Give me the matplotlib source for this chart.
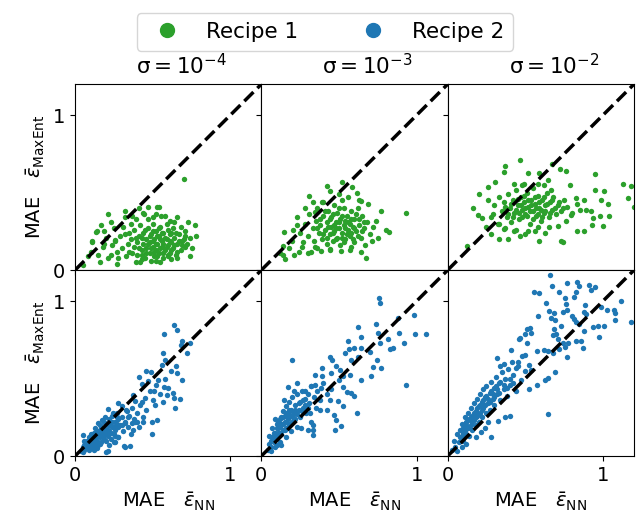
import numpy as np
import matplotlib.pyplot as plt
from matplotlib.lines import Line2D

# sigma values for the three columns
sigma_labels = [r'$\mathrm{\sigma = 10^{-4}}$', r'$\mathrm{\sigma = 10^{-3}}$', r'$\mathrm{\sigma = 10^{-2}}$']
recipe_names = ['Recipe 1', 'Recipe 2']
recipe_colors = ['#2ca02c', '#1f77b4']

# (MAE NN, MAE MaxEnt) pairs
r1_s4 = [(0.70,0.59),(0.215,0.36),(0.32,0.38),(0.41,0.40),(0.53,0.41),(0.445,0.36),(0.557,0.35),(0.656,0.34),
         (0.727,0.31),(0.774,0.29),(0.778,0.22),(0.753,0.14),(0.738,0.09),(0.656,0.076),(0.27,0.04),(0.28,0.08),
         (0.108,0.19),(0.133,0.245),(0.15,0.10),(0.086,0.09),(0.23,0.31),(0.32,0.34),(0.39,0.33),(0.505,0.34),
         (0.61,0.32),(0.68,0.28),(0.71,0.255),(0.69,0.19),(0.71,0.15),(0.60,0.10),(0.52,0.06),(0.43,0.07),
         (0.39,0.05),(0.215,0.08),(0.18,0.15),(0.26,0.19),(0.19,0.255),(0.32,0.235),(0.05,0.03),(0.17,0.29),
         (0.14,0.25),(0.11,0.18),(0.19,0.17),(0.26,0.195),(0.23,0.10),(0.37,0.35),(0.44,0.37),(0.47,0.41),
         (0.54,0.41),(0.35,0.12),(0.36,0.20),(0.38,0.15),(0.38,0.26),(0.40,0.10),(0.40,0.18),(0.41,0.22),
         (0.42,0.29),(0.43,0.13),(0.44,0.17),(0.44,0.24),(0.45,0.08),(0.46,0.20),(0.46,0.14),(0.47,0.27),
         (0.48,0.11),(0.48,0.18),(0.49,0.23),(0.50,0.15),(0.50,0.30),(0.51,0.09),(0.51,0.20),(0.52,0.13),
         (0.52,0.25),(0.53,0.17),(0.54,0.22),(0.54,0.11),(0.55,0.28),(0.56,0.15),(0.56,0.19),(0.57,0.08),
         (0.57,0.24),(0.58,0.13),(0.59,0.20),(0.59,0.30),(0.60,0.16),(0.61,0.11),(0.61,0.23),(0.62,0.18),
         (0.63,0.14),(0.63,0.27),(0.64,0.21),(0.65,0.10),(0.66,0.17),(0.67,0.23),(0.68,0.13),(0.70,0.20),
         (0.72,0.17),(0.74,0.21),(0.30,0.14),(0.31,0.28),(0.33,0.09),(0.34,0.17),(0.29,0.22),(0.27,0.12),
         (0.25,0.27),(0.42,0.05),(0.49,0.06),(0.55,0.05),(0.62,0.07),(0.47,0.33),(0.58,0.35),(0.36,0.30),
         (0.64,0.31),(0.52,0.36),(0.10,0.12),(0.20,0.21),(0.24,0.16),(0.16,0.05),
         (0.41,0.14),(0.43,0.21),(0.45,0.26),(0.46,0.11),(0.47,0.17),(0.48,0.22),(0.49,0.14),(0.50,0.19),
         (0.50,0.25),(0.51,0.12),(0.52,0.17),(0.53,0.22),(0.53,0.09),(0.54,0.27),(0.55,0.14),(0.55,0.20),
         (0.56,0.24),(0.57,0.11),(0.57,0.17),(0.58,0.21),(0.59,0.15),(0.60,0.26),(0.60,0.09),(0.61,0.19),
         (0.62,0.13),(0.62,0.24),(0.64,0.16),(0.65,0.24),(0.66,0.12),(0.67,0.19),(0.39,0.21),(0.37,0.11),
         (0.35,0.24),(0.43,0.10),(0.69,0.16),(0.71,0.22)]

r1_s3 = [(0.935,0.37),(0.426,0.54),(0.52,0.567),(0.585,0.537),(0.617,0.50),(0.31,0.476),(0.44,0.51),(0.50,0.49),
         (0.56,0.47),(0.645,0.446),(0.69,0.43),(0.77,0.38),(0.74,0.32),(0.80,0.26),(0.82,0.245),(0.75,0.21),
         (0.71,0.19),(0.677,0.08),(0.645,0.115),(0.576,0.147),(0.516,0.126),(0.44,0.134),(0.387,0.126),
         (0.344,0.147),(0.30,0.108),(0.26,0.147),(0.21,0.10),(0.14,0.10),(0.14,0.158),(0.146,0.245),(0.204,0.26),
         (0.232,0.342),(0.28,0.40),(0.333,0.44),(0.40,0.44),(0.344,0.374),(0.28,0.30),(0.30,0.22),(0.31,0.36),
         (0.33,0.27),(0.34,0.19),(0.35,0.32),(0.36,0.40),(0.37,0.24),(0.38,0.29),(0.39,0.20),(0.40,0.35),
         (0.41,0.26),(0.42,0.31),(0.42,0.17),(0.43,0.38),(0.44,0.23),(0.45,0.28),(0.45,0.34),(0.46,0.19),
         (0.47,0.42),(0.47,0.25),(0.48,0.31),(0.49,0.21),(0.49,0.37),(0.50,0.27),(0.51,0.33),(0.51,0.16),
         (0.52,0.24),(0.53,0.40),(0.53,0.29),(0.54,0.20),(0.55,0.35),(0.56,0.26),(0.56,0.31),(0.57,0.22),
         (0.58,0.38),(0.59,0.28),(0.60,0.18),(0.60,0.33),(0.61,0.25),(0.62,0.40),(0.63,0.29),(0.64,0.21),
         (0.65,0.35),(0.66,0.27),(0.67,0.16),(0.68,0.31),(0.70,0.23),(0.72,0.28),(0.36,0.14),(0.39,0.44),
         (0.44,0.13),(0.52,0.45),(0.57,0.13),(0.63,0.45),(0.25,0.24),(0.27,0.18),(0.32,0.12),(0.23,0.29),
         (0.20,0.19),(0.18,0.14),(0.15,0.07),(0.12,0.11),(0.24,0.12),
         (0.36,0.27),(0.38,0.33),(0.40,0.23),(0.41,0.38),(0.43,0.28),(0.44,0.33),(0.46,0.24),(0.46,0.36),
         (0.48,0.27),(0.48,0.20),(0.50,0.31),(0.50,0.40),(0.52,0.21),(0.52,0.35),(0.54,0.27),(0.54,0.32),
         (0.55,0.23),(0.57,0.30),(0.58,0.24),(0.58,0.33),(0.60,0.27),(0.61,0.36),(0.62,0.22),(0.63,0.33),
         (0.65,0.25),(0.66,0.31),(0.42,0.21),(0.47,0.29),(0.53,0.18),(0.59,0.20)]

r1_s2 = [(0.468,0.708),(0.369,0.675),(0.364,0.636),(0.519,0.63),(0.587,0.628),(0.673,0.684),(0.724,0.654),
         (0.762,0.64),(0.95,0.62),(1.13,0.558),(1.18,0.543),(1.16,0.465),(1.20,0.407),(0.946,0.52),(1.006,0.51),
         (0.99,0.45),(1.03,0.43),(1.04,0.35),(0.98,0.35),(0.935,0.335),(0.93,0.294),(1.0,0.284),(0.88,0.255),
         (0.834,0.255),(0.744,0.18),(0.73,0.186),(0.587,0.186),(0.469,0.223),(0.387,0.20),(0.333,0.20),
         (0.28,0.234),(0.247,0.277),(0.22,0.335),(0.198,0.353),(0.166,0.40),(0.204,0.49),(0.258,0.537),
         (0.305,0.567),(0.125,0.158),(0.785,0.548),(0.828,0.467),(0.88,0.45),(0.85,0.39),(0.89,0.385),
         (0.925,0.38),(0.796,0.353),(0.763,0.32),(0.71,0.288),(0.656,0.277),(0.624,0.238),(0.56,0.255),
         (0.50,0.234),(0.43,0.255),(0.366,0.266),(0.323,0.30),(0.28,0.342),(0.43,0.558),(0.495,0.558),
         (0.58,0.558),(0.645,0.58),(0.667,0.515),(0.30,0.42),(0.33,0.47),(0.35,0.38),(0.36,0.44),(0.38,0.34),
         (0.39,0.49),(0.40,0.40),(0.41,0.31),(0.42,0.45),(0.43,0.37),(0.44,0.52),(0.45,0.42),(0.46,0.33),
         (0.47,0.47),(0.48,0.39),(0.49,0.44),(0.50,0.36),(0.51,0.50),(0.52,0.41),(0.53,0.30),(0.54,0.45),
         (0.55,0.38),(0.56,0.43),(0.57,0.35),(0.58,0.48),(0.59,0.40),(0.60,0.32),(0.61,0.45),(0.62,0.37),
         (0.63,0.42),(0.64,0.50),(0.65,0.34),(0.66,0.44),(0.67,0.39),(0.68,0.47),(0.70,0.36),(0.71,0.42),
         (0.73,0.38),(0.75,0.45),(0.77,0.41),(0.80,0.37),(0.83,0.43),(0.37,0.27),(0.44,0.26),(0.52,0.25),
         (0.58,0.28),(0.26,0.45),(0.29,0.36),(0.33,0.30),(0.48,0.55),(0.55,0.53),(0.62,0.55),
         (0.37,0.41),(0.39,0.36),(0.41,0.43),(0.42,0.34),(0.44,0.39),(0.45,0.46),(0.46,0.37),(0.47,0.42),
         (0.48,0.34),(0.49,0.48),(0.50,0.40),(0.51,0.35),(0.52,0.45),(0.53,0.38),(0.54,0.42),(0.55,0.33),
         (0.56,0.47),(0.57,0.40),(0.58,0.36),(0.59,0.44),(0.60,0.39),(0.61,0.34),(0.62,0.47),(0.63,0.38),
         (0.64,0.43),(0.66,0.37),(0.67,0.45),(0.69,0.40),(0.72,0.44),(0.74,0.40)]

r2_s4 = [(0.64,0.844),(0.66,0.814),(0.576,0.79),(0.69,0.742),(0.742,0.727),(0.684,0.714),(0.57,0.662),
         (0.72,0.667),(0.58,0.623),(0.563,0.59),(0.65,0.58),(0.456,0.548),(0.49,0.54),(0.537,0.494),
         (0.413,0.51),(0.469,0.483),(0.656,0.537),(0.688,0.494),(0.43,0.468),(0.512,0.418),(0.576,0.446),
         (0.59,0.396),(0.634,0.407),(0.677,0.368),(0.64,0.374),(0.57,0.346),(0.645,0.31),(0.516,0.33),
         (0.45,0.374),(0.42,0.33),(0.387,0.353),(0.376,0.396),(0.44,0.255),(0.495,0.223),(0.527,0.234),
         (0.495,0.14),(0.355,0.065),(0.318,0.065),(0.198,0.028),(0.275,0.12),(0.258,0.093),(0.226,0.223),
         (0.28,0.342),(0.30,0.32),(0.333,0.288),(0.344,0.255),(0.366,0.212),(0.398,0.223),(0.323,0.212),
         (0.269,0.255),(0.247,0.277),(0.215,0.303),(0.194,0.255),(0.172,0.234),(0.15,0.212),(0.054,0.136),
         (0.054,0.028),(0.086,0.05),(0.32,0.06),(0.376,0.17),(0.387,0.223),(0.28,0.19),(0.215,0.035),
         (0.04,0.03),(0.05,0.06),(0.06,0.04),(0.07,0.08),(0.07,0.05),(0.08,0.10),(0.08,0.06),(0.09,0.12),
         (0.09,0.04),(0.10,0.08),(0.10,0.14),(0.11,0.10),(0.11,0.06),(0.12,0.15),(0.12,0.12),(0.13,0.08),
         (0.13,0.18),(0.14,0.13),(0.14,0.10),(0.15,0.16),(0.15,0.07),(0.16,0.12),(0.16,0.20),(0.17,0.15),
         (0.17,0.09),(0.18,0.18),(0.18,0.12),(0.19,0.22),(0.19,0.14),(0.20,0.10),(0.20,0.17),(0.21,0.20),
         (0.21,0.13),(0.22,0.24),(0.22,0.16),(0.23,0.11),(0.24,0.19),(0.24,0.26),(0.25,0.14),(0.26,0.22),
         (0.26,0.17),(0.27,0.28),(0.28,0.12),(0.29,0.20),(0.30,0.25),(0.31,0.16),(0.32,0.22),(0.33,0.30),
         (0.34,0.19),(0.35,0.26),(0.36,0.14),(0.37,0.31),(0.38,0.24),(0.40,0.28),(0.41,0.19),(0.43,0.35),
         (0.44,0.22),(0.46,0.30),(0.48,0.42),(0.50,0.36),(0.52,0.46),(0.55,0.40),(0.58,0.50),(0.60,0.44),
         (0.62,0.55),(0.12,0.04),(0.14,0.05),(0.22,0.07),(0.25,0.09),(0.06,0.10),
         (0.06,0.07),(0.08,0.08),(0.09,0.09),(0.10,0.11),(0.11,0.13),(0.12,0.10),(0.13,0.12),(0.14,0.16),
         (0.15,0.13),(0.16,0.15),(0.17,0.18),(0.18,0.15),(0.19,0.18),(0.20,0.14),(0.21,0.17),(0.22,0.20),
         (0.23,0.15),(0.24,0.22),(0.25,0.19),(0.27,0.21),(0.28,0.24),(0.30,0.20),(0.13,0.05),(0.16,0.08),
         (0.19,0.11),(0.26,0.13)]

r2_s3 = [(0.757,1.017),(0.763,0.991),(0.985,0.911),(0.88,0.89),(0.738,0.85),(0.62,0.833),(0.99,0.786),
         (1.06,0.79),(0.753,0.797),(0.888,0.797),(0.817,0.753),(0.645,0.768),(0.763,0.727),(0.92,0.732),
         (0.56,0.742),(0.85,0.70),(0.828,0.693),(0.563,0.693),(0.598,0.70),(0.645,0.695),(0.70,0.671),
         (0.538,0.667),(0.44,0.64),(0.456,0.617),(0.198,0.619),(0.58,0.623),(0.624,0.64),(0.746,0.623),
         (0.77,0.569),(0.72,0.576),(0.484,0.58),(0.394,0.569),(0.505,0.558),(0.447,0.537),(0.344,0.526),
         (0.391,0.515),(0.527,0.515),(0.57,0.526),(0.645,0.494),(0.705,0.515),(0.929,0.457),(0.172,0.446),
         (0.232,0.472),(0.323,0.455),(0.348,0.461),(0.387,0.44),(0.527,0.446),(0.50,0.494),(0.452,0.43),
         (0.576,0.407),(0.598,0.385),(0.555,0.411),(0.443,0.364),(0.495,0.357),(0.527,0.32),(0.42,0.30),
         (0.376,0.30),(0.617,0.281),(0.467,0.264),(0.484,0.234),(0.516,0.195),(0.473,0.169),(0.333,0.20),
         (0.333,0.169),(0.30,0.169),(0.333,0.136),(0.254,0.18),(0.312,0.277),(0.323,0.223),(0.146,0.364),
         (0.21,0.418),(0.28,0.418),(0.04,0.04),(0.05,0.08),(0.06,0.06),(0.07,0.12),(0.08,0.09),(0.08,0.15),
         (0.09,0.06),(0.10,0.12),(0.10,0.18),(0.11,0.15),(0.11,0.22),(0.12,0.09),(0.12,0.19),(0.13,0.25),
         (0.13,0.14),(0.14,0.21),(0.14,0.29),(0.15,0.17),(0.15,0.26),(0.16,0.32),(0.16,0.22),(0.17,0.28),
         (0.17,0.19),(0.18,0.35),(0.18,0.25),(0.19,0.30),(0.20,0.22),(0.20,0.38),(0.21,0.27),(0.22,0.33),
         (0.22,0.24),(0.23,0.40),(0.24,0.30),(0.25,0.35),(0.25,0.25),(0.26,0.42),(0.27,0.31),(0.28,0.37),
         (0.29,0.28),(0.30,0.40),(0.31,0.34),(0.32,0.45),(0.34,0.38),(0.35,0.31),(0.36,0.42),(0.38,0.36),
         (0.40,0.47),(0.42,0.40),(0.05,0.13),(0.07,0.18),(0.09,0.24),(0.06,0.03),(0.10,0.07),(0.13,0.07),
         (0.16,0.12),(0.19,0.16),(0.23,0.19),
         (0.06,0.10),(0.08,0.12),(0.09,0.15),(0.10,0.21),(0.11,0.18),(0.12,0.24),(0.13,0.21),(0.14,0.17),
         (0.14,0.25),(0.15,0.22),(0.16,0.28),(0.17,0.24),(0.18,0.21),(0.18,0.30),(0.19,0.26),(0.20,0.29),
         (0.21,0.24),(0.22,0.30),(0.23,0.27),(0.24,0.34),(0.26,0.29),(0.27,0.36),(0.28,0.33),(0.30,0.31),
         (0.12,0.15),(0.16,0.18)]

r2_s2 = [(0.66,1.169),(0.77,1.117),(0.834,1.121),(0.673,1.10),(0.845,1.095),(0.91,1.106),(0.946,1.089),
         (0.925,1.074),(0.559,1.056),(0.587,1.05),(0.72,1.06),(0.824,1.06),(0.813,1.024),(0.753,1.02),
         (1.118,0.998),(0.634,0.985),(0.763,0.98),(0.886,0.974),(0.985,0.959),(1.028,0.944),(1.071,0.944),
         (0.65,0.933),(0.684,0.926),(0.742,0.931),(0.77,0.944),(0.88,0.931),(0.80,0.905),(0.813,0.887),
         (0.892,0.916),(1.075,0.922),(0.585,0.905),(0.667,0.894),(0.692,0.879),(1.08,0.876),(1.178,0.868),
         (0.824,0.866),(0.727,0.84),(0.845,0.85),(0.88,0.81),(0.935,0.83),(0.968,0.84),(1.01,0.84),
         (0.978,0.77),(0.688,0.818),(0.70,0.786),(0.533,0.829),(0.512,0.823),(0.538,0.797),(0.50,0.786),
         (0.458,0.753),(0.469,0.76),(0.512,0.727),(0.677,0.78),(0.71,0.753),(0.742,0.727),(0.774,0.732),
         (0.828,0.742),(0.856,0.742),(0.871,0.70),(0.757,0.703),(0.72,0.693),(0.409,0.684),(0.576,0.677),
         (0.619,0.684),(0.645,0.677),(0.677,0.667),(0.50,0.65),(0.477,0.645),(0.77,0.64),(0.316,0.634),
         (0.415,0.606),(0.452,0.606),(0.527,0.587),(0.366,0.591),(0.338,0.58),(0.538,0.558),(0.44,0.569),
         (0.692,0.541),(0.645,0.504),(0.624,0.494),(0.576,0.461),(0.527,0.435),(0.645,0.273),(0.28,0.126),
         (0.215,0.158),(0.404,0.26),(0.37,0.251),(0.323,0.229),(0.262,0.223),(0.04,0.10),(0.05,0.06),
         (0.06,0.14),(0.07,0.09),(0.08,0.17),(0.08,0.12),(0.09,0.21),(0.10,0.15),(0.10,0.10),(0.11,0.19),
         (0.11,0.25),(0.12,0.14),(0.12,0.22),(0.13,0.18),(0.13,0.28),(0.14,0.24),(0.14,0.13),(0.15,0.31),
         (0.15,0.20),(0.16,0.26),(0.16,0.17),(0.17,0.34),(0.17,0.23),(0.18,0.29),(0.18,0.20),(0.19,0.37),
         (0.19,0.26),(0.20,0.32),(0.20,0.22),(0.21,0.40),(0.21,0.28),(0.22,0.35),(0.22,0.25),(0.23,0.43),
         (0.23,0.31),(0.24,0.38),(0.25,0.28),(0.25,0.45),(0.26,0.34),(0.27,0.41),(0.27,0.30),(0.28,0.48),
         (0.29,0.37),(0.30,0.44),(0.30,0.33),(0.31,0.51),(0.32,0.40),(0.33,0.47),(0.34,0.36),(0.35,0.54),
         (0.36,0.43),(0.37,0.50),(0.38,0.39),(0.39,0.56),(0.40,0.46),(0.42,0.52),(0.44,0.42),(0.45,0.58),
         (0.47,0.49),(0.50,0.55),(0.03,0.04),(0.06,0.03),(0.09,0.06),(0.12,0.08),(0.18,0.12),(0.24,0.18),
         (0.09,0.13),(0.10,0.18),(0.11,0.16),(0.12,0.20),(0.13,0.23),(0.14,0.19),(0.15,0.25),(0.16,0.22),
         (0.17,0.28),(0.18,0.25),(0.19,0.31),(0.20,0.27),(0.21,0.33),(0.22,0.30),(0.23,0.36),(0.24,0.33),
         (0.25,0.39),(0.26,0.37),(0.27,0.35),(0.28,0.42),(0.29,0.40),(0.30,0.38),(0.31,0.45),(0.32,0.43),
         (0.33,0.41),(0.34,0.48),(0.36,0.46),(0.38,0.44),(0.40,0.50),(0.42,0.47)]

panels = [[r1_s4, r1_s3, r1_s2], [r2_s4, r2_s3, r2_s2]]

plt.rcParams['font.size'] = 14
fig, axes = plt.subplots(2, 3, sharex=True, sharey=True, figsize=(6.41, 5.23), dpi=100)
fig.subplots_adjust(left=0.117, right=0.989, top=0.839, bottom=0.128, wspace=0, hspace=0)

for i in range(2):
    for j in range(3):
        ax = axes[i, j]
        pts = np.array(panels[i][j])
        ax.scatter(pts[:, 0], pts[:, 1], s=15, color=recipe_colors[i], linewidths=0)
        ax.plot([0, 1.2], [0, 1.2], 'k--', lw=2.5)
        ax.set_xlim(0, 1.2)
        ax.set_ylim(0, 1.2)
        ax.set_xticks([0, 1])
        ax.set_yticks([0, 1])
        if i == 0:
            ax.text(0.57, 1.03, sigma_labels[j], fontsize=15.5, ha='center', va='bottom',
                    transform=ax.transAxes)
        if i == 1:
            ax.set_xlabel(r'MAE   $\bar{\varepsilon}_\mathrm{NN}$')
        if j == 0:
            ax.set_ylabel(r'MAE   $\bar{\varepsilon}_\mathrm{MaxEnt}$')

handles = [Line2D([], [], ls='', marker='o', ms=10, color=c) for c in recipe_colors]
fig.legend(handles, recipe_names, loc='upper center', bbox_to_anchor=(0.507, 0.995), ncol=2,
           fontsize=15.5, columnspacing=2.5)

fig.savefig('out.png', dpi=100)
